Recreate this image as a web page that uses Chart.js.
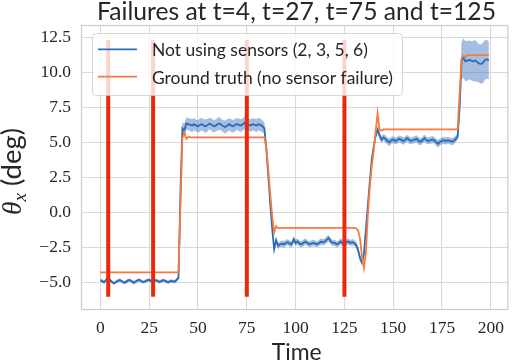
<!DOCTYPE html>
<html><head><meta charset="utf-8">
<script src="https://cdn.jsdelivr.net/npm/chart.js@4/dist/chart.umd.min.js"></script>
<style>html,body{margin:0;padding:0;background:#fff;}canvas{display:block;}</style>
</head><body>
<canvas id="c" width="512" height="361"></canvas>
<script>
// ---------------- DATA ----------------
const titleText = 'Failures at t=4, t=27, t=75 and t=125';
const seriesNames = ['Not using sensors (2, 3, 5, 6)', 'Ground truth (no sensor failure)'];
const xTicks = [0, 25, 50, 75, 100, 125, 150, 175, 200];
const yTicks = [-5, -2.5, 0, 2.5, 5, 7.5, 10, 12.5];
const failureTimes = [4, 27, 75, 125];
const failureSpan = [-6.05, 12.32];

const times = [
  0,1,2,3,4,5,6,7,8,9,
  10,11,12,13,14,15,16,17,18,19,
  20,21,22,23,24,25,26,27,28,29,
  30,31,32,33,34,35,36,37,38,39,
  40,41,42,43,44,45,46,47,48,49,
  50,51,52,53,54,55,56,57,58,59,
  60,61,62,63,64,65,66,67,68,69,
  70,71,72,73,74,75,76,77,78,79,
  80,81,82,83,84,85,86,87,88,89,
  90,91,92,93,94,95,96,97,98,99,
  100,101,102,103,104,105,106,107,108,109,
  110,111,112,113,114,115,116,117,118,119,
  120,121,122,123,124,125,126,127,128,129,
  130,131,132,133,134,135,136,137,138,139,
  140,141,142,143,144,145,146,147,148,149,
  150,151,152,153,154,155,156,157,158,159,
  160,161,162,163,164,165,166,167,168,169,
  170,171,172,173,174,175,176,177,178,179,
  180,181,182,183,184,185,186,187,188,189,
  190,191,192,193,194,195,196,197,198,199
];

const predicted = [
  -4.85,-4.95,-5.0,-4.82,-4.72,-4.85,-5.02,-5.08,-5.0,-4.9,
  -4.86,-4.95,-5.04,-5.0,-4.9,-4.85,-4.95,-5.04,-4.98,-4.88,
  -4.85,-4.94,-5.0,-4.94,-4.86,-4.85,-4.93,-4.95,-4.86,-4.9,
  -4.98,-4.95,-4.86,-4.9,-4.98,-5.0,-4.92,-4.94,-4.98,-4.85,
  -4.7,1.5,6.0,5.85,6.35,6.3,6.25,6.2,6.3,6.2,
  6.15,6.25,6.3,6.2,6.15,6.25,6.35,6.25,6.15,6.2,
  6.3,6.35,6.25,6.15,6.1,6.2,6.3,6.2,6.15,6.25,
  6.3,6.25,6.2,6.3,6.4,6.35,6.25,6.2,6.3,6.25,
  6.2,6.3,6.25,6.15,6.0,4.5,2.6,0.6,-1.2,-2.65,
  -2.0,-2.4,-2.3,-2.25,-2.3,-2.2,-2.15,-2.25,-2.3,-1.95,
  -2.2,-2.1,-2.25,-2.3,-2.2,-2.1,-2.2,-2.3,-2.25,-2.2,
  -2.25,-2.3,-2.2,-2.1,-2.15,-2.1,-1.95,-1.85,-2.1,-2.2,
  -2.2,-2.3,-2.25,-2.1,-2.2,-2.3,-2.15,-2.1,-2.2,-2.15,
  -2.2,-2.35,-2.7,-3.3,-3.6,-3.0,-1.2,0.5,2.2,3.8,
  4.7,5.5,5.9,5.5,5.2,5.35,5.25,5.1,5.0,5.15,
  5.2,5.1,5.15,5.25,5.2,5.1,5.15,5.3,5.2,5.1,
  5.15,5.2,5.25,5.1,5.05,5.15,5.3,5.15,5.1,5.15,
  5.2,5.15,5.0,4.9,5.05,5.1,5.15,5.1,5.15,5.1,
  5.05,5.1,5.25,5.4,7.5,10.85,11.05,10.8,10.85,10.9,
  10.85,10.8,10.85,10.75,10.65,10.6,10.7,10.9,10.95,10.85
];

const predictedStd = [
  0.12,0.13,0.12,0.11,0.12,0.13,0.12,0.12,0.11,0.12,
  0.13,0.12,0.12,0.13,0.12,0.11,0.12,0.13,0.12,0.12,
  0.12,0.13,0.12,0.12,0.11,0.12,0.13,0.12,0.12,0.12,
  0.13,0.12,0.12,0.11,0.12,0.13,0.12,0.12,0.13,0.14,
  0.15,0.3,0.45,0.5,0.45,0.42,0.45,0.48,0.44,0.42,
  0.45,0.47,0.43,0.45,0.48,0.44,0.42,0.46,0.45,0.43,
  0.47,0.45,0.42,0.44,0.46,0.45,0.43,0.47,0.44,0.45,
  0.42,0.46,0.45,0.43,0.47,0.45,0.44,0.46,0.43,0.45,
  0.47,0.44,0.45,0.43,0.4,0.38,0.35,0.32,0.3,0.25,
  0.22,0.23,0.21,0.22,0.24,0.22,0.21,0.23,0.22,0.24,
  0.22,0.21,0.23,0.22,0.24,0.22,0.21,0.23,0.22,0.22,
  0.23,0.21,0.22,0.24,0.22,0.23,0.25,0.24,0.22,0.21,
  0.22,0.23,0.22,0.21,0.23,0.22,0.24,0.22,0.21,0.23,
  0.22,0.23,0.24,0.25,0.25,0.25,0.25,0.25,0.25,0.25,
  0.25,0.25,0.25,0.26,0.25,0.24,0.26,0.25,0.27,0.25,
  0.24,0.26,0.25,0.24,0.26,0.27,0.25,0.24,0.26,0.25,
  0.24,0.26,0.25,0.27,0.25,0.24,0.26,0.25,0.24,0.26,
  0.25,0.24,0.26,0.27,0.25,0.24,0.26,0.25,0.24,0.25,
  0.26,0.25,0.24,0.25,0.8,1.35,1.4,1.45,1.42,1.38,
  1.4,1.45,1.5,1.42,1.38,1.4,1.45,1.42,1.38,1.35
];

const groundTruth = [
  -4.3,-4.3,-4.3,-4.3,-4.3,-4.3,-4.3,-4.3,-4.3,-4.3,
  -4.3,-4.3,-4.3,-4.3,-4.3,-4.3,-4.3,-4.3,-4.3,-4.3,
  -4.3,-4.3,-4.3,-4.3,-4.3,-4.3,-4.3,-4.3,-4.3,-4.3,
  -4.3,-4.3,-4.3,-4.3,-4.3,-4.3,-4.3,-4.3,-4.3,-4.3,
  -4.3,0.5,5.3,5.7,5.25,5.4,5.35,5.35,5.35,5.35,
  5.35,5.35,5.35,5.35,5.35,5.35,5.35,5.35,5.35,5.35,
  5.35,5.35,5.35,5.35,5.35,5.35,5.35,5.35,5.35,5.35,
  5.35,5.35,5.35,5.35,5.35,5.35,5.35,5.35,5.35,5.35,
  5.35,5.35,5.35,5.35,5.35,4.6,3.0,1.3,-0.3,-1.45,
  -1.0,-1.15,-1.12,-1.12,-1.12,-1.12,-1.12,-1.12,-1.12,-1.12,
  -1.12,-1.12,-1.12,-1.12,-1.12,-1.12,-1.12,-1.12,-1.12,-1.12,
  -1.12,-1.12,-1.12,-1.12,-1.12,-1.12,-1.12,-1.12,-1.12,-1.12,
  -1.12,-1.12,-1.12,-1.12,-1.12,-1.12,-1.12,-1.12,-1.12,-1.12,
  -1.12,-1.15,-1.3,-1.9,-3.2,-4.0,-2.9,-0.2,1.8,3.3,
  4.4,5.8,7.1,5.9,5.85,5.93,5.93,5.93,5.93,5.93,
  5.93,5.93,5.93,5.93,5.93,5.93,5.93,5.93,5.93,5.93,
  5.93,5.93,5.93,5.93,5.93,5.93,5.93,5.93,5.93,5.93,
  5.93,5.93,5.93,5.93,5.93,5.93,5.93,5.93,5.93,5.93,
  5.93,5.93,5.93,5.95,8.5,11.0,11.2,11.1,11.25,11.25,
  11.25,11.25,11.25,11.25,11.25,11.25,11.25,11.25,11.25,11.25
];

// ---------------- STYLE ----------------
const BLUE = '#2b6cb8', ORANGE = '#f77b3c', RED = '#e8290b', BAND = 'rgba(74,124,196,0.5)';
const TXT = '#262626', GRID = '#d9d9d9';
const SANS = 'Lato', SERIF = '"Liberation Serif"';

const pts = ys => times.map((t, i) => ({x: t, y: ys[i]}));
const upper = predicted.map((v, i) => v + predictedStd[i]);
const lower = predicted.map((v, i) => v - predictedStd[i]);

function fitSize(ctx, text, font, target) {
  ctx.font = '100px ' + font;
  return 100 * target / ctx.measureText(text).width;
}

const decor = {
  id: 'decor',
  beforeDatasetsDraw(chart) {
    const {ctx, chartArea: a} = chart;
    ctx.save();
    ctx.strokeStyle = '#cccccc'; ctx.lineWidth = 1.2;
    ctx.strokeRect(a.left + 0.5, a.top + 0.5, a.right - a.left - 1, a.bottom - a.top - 1);
    ctx.restore();
  },
  afterDraw(chart) {
    const {ctx, chartArea: a} = chart;
    ctx.save();
    ctx.fillStyle = TXT;
    // title
    let s = fitSize(ctx, titleText, SANS, 399);
    ctx.font = s + 'px ' + SANS; ctx.textAlign = 'center'; ctx.textBaseline = 'alphabetic';
    ctx.fillText(titleText, 296.5, 19.5);
    // x label
    s = fitSize(ctx, 'Time', SANS, 50);
    ctx.font = s + 'px ' + SANS;
    ctx.fillText('Time', 296.7, 359.5);
    // y label
    ctx.save();
    ctx.translate(21, 171.5); ctx.rotate(-Math.PI / 2);
    const base = 22;
    const fTheta = 'italic ' + base + 'px ' + SERIF;
    const fSub = 'italic ' + (base * 0.7) + 'px ' + SERIF;
    const fRest = base + 'px ' + SANS;
    ctx.font = fTheta; const w1 = ctx.measureText('θ').width;
    ctx.font = fSub; const w2 = ctx.measureText('x').width;
    ctx.font = fRest; const w3 = ctx.measureText(' (deg)').width;
    const tot = w1 + w2 + w3, k = 87 / tot;
    ctx.scale(k, k);
    let x = -tot / 2;
    ctx.textAlign = 'left';
    ctx.font = fTheta; ctx.fillText('θ', x, 0); x += w1;
    ctx.font = fSub; ctx.fillText('x', x, base * 0.18); x += w2;
    ctx.font = fRest; ctx.fillText(' (deg)', x, 0);
    ctx.restore();
    // legend
    const lx = 92.5, ly = 33.5, lw = 310, lh = 62, r = 4;
    ctx.beginPath();
    ctx.moveTo(lx + r, ly); ctx.lineTo(lx + lw - r, ly); ctx.arcTo(lx + lw, ly, lx + lw, ly + r, r);
    ctx.lineTo(lx + lw, ly + lh - r); ctx.arcTo(lx + lw, ly + lh, lx + lw - r, ly + lh, r);
    ctx.lineTo(lx + r, ly + lh); ctx.arcTo(lx, ly + lh, lx, ly + lh - r, r);
    ctx.lineTo(lx, ly + r); ctx.arcTo(lx, ly, lx + r, ly, r); ctx.closePath();
    ctx.fillStyle = 'rgba(255,255,255,0.8)'; ctx.fill();
    ctx.strokeStyle = 'rgba(204,204,204,0.8)'; ctx.lineWidth = 1; ctx.stroke();
    const rows = [[BLUE, 49.3, 56], [ORANGE, 76.7, 84]];
    s = fitSize(ctx, seriesNames[1], SANS, 241);
    rows.forEach((row, i) => {
      ctx.strokeStyle = row[0]; ctx.lineWidth = 1.8;
      ctx.beginPath(); ctx.moveTo(98, row[1]); ctx.lineTo(137, row[1]); ctx.stroke();
      ctx.fillStyle = TXT; ctx.font = s + 'px ' + SANS; ctx.textAlign = 'left';
      ctx.fillText(seriesNames[i], 152, row[2]);
    });
    ctx.restore();
  }
};

const datasets = [
  {data: pts(upper), borderColor: 'transparent', borderWidth: 0, pointRadius: 0, fill: '+1', backgroundColor: BAND, order: 4},
  {data: pts(lower), borderColor: 'transparent', borderWidth: 0, pointRadius: 0, fill: false, order: 3},
  {label: seriesNames[0], data: pts(predicted), borderColor: BLUE, borderWidth: 1.8, pointRadius: 0, fill: false, order: 2},
  {label: seriesNames[1], data: pts(groundTruth), borderColor: ORANGE, borderWidth: 1.8, pointRadius: 0, fill: false, order: 1}
];
failureTimes.forEach(t => datasets.push({
  data: [{x: t, y: failureSpan[0]}, {x: t, y: failureSpan[1]}],
  borderColor: RED, borderWidth: 4, pointRadius: 0, fill: false, order: 0, borderCapStyle: 'butt'
}));

new Chart(document.getElementById('c'), {
  type: 'line',
  data: {datasets},
  options: {
    responsive: false, animation: false, devicePixelRatio: 1,
    layout: {padding: {top: 25, right: 1, left: 0, bottom: 0}},
    elements: {line: {tension: 0}},
    plugins: {legend: {display: false}, tooltip: {enabled: false}, title: {display: false}},
    scales: {
      x: {
        type: 'linear', min: -9.95, max: 208.95,
        afterBuildTicks: sc => { sc.ticks = xTicks.map(v => ({value: v})); },
        afterFit: sc => { sc.height = 51; },
        ticks: {callback: v => String(v), font: {family: 'Liberation Serif', size: 17.5}, color: TXT, padding: 8, maxRotation: 0, autoSkip: false},
        grid: {color: GRID, lineWidth: 1.1, drawTicks: false},
        border: {display: false}
      },
      y: {
        type: 'linear', min: -7.0, max: 13.4,
        afterBuildTicks: sc => { sc.ticks = yTicks.map(v => ({value: v})); },
        afterFit: sc => { sc.width = 81; },
        ticks: {callback: v => (v < 0 ? '\u2212' : '') + Math.abs(v).toFixed(1), font: {family: 'Liberation Serif', size: 17.5}, color: TXT, padding: 10, autoSkip: false},
        grid: {color: GRID, lineWidth: 1.1, drawTicks: false},
        border: {display: false}
      }
    }
  },
  plugins: [decor]
});
</script>
</body></html>
